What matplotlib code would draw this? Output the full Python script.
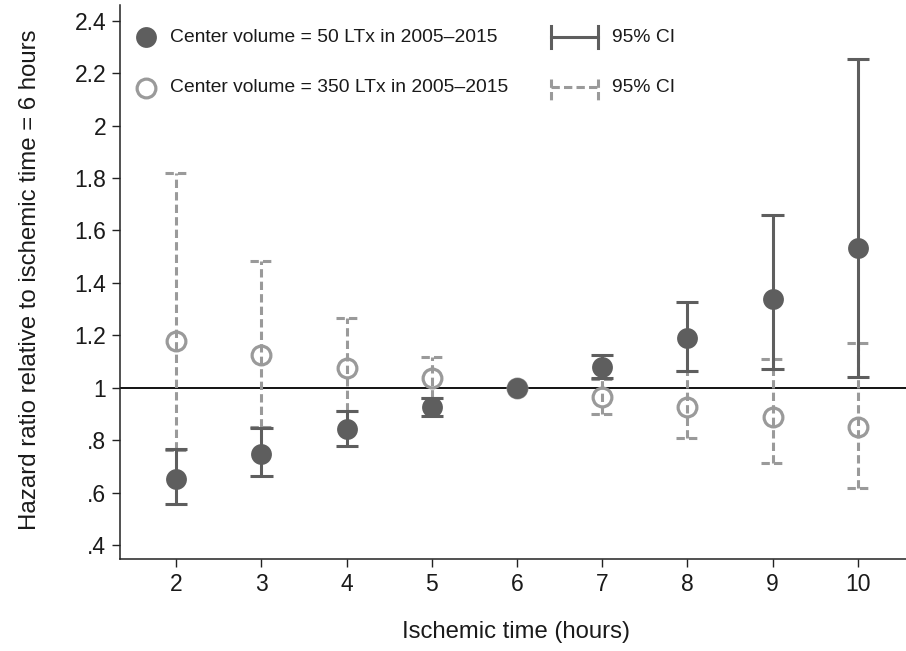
import numpy as np
import matplotlib
matplotlib.use("Agg")
import matplotlib.pyplot as plt
from matplotlib.lines import Line2D

plt.rcParams['font.family'] = ['Liberation Sans', 'DejaVu Sans']
plt.rcParams['lines.scale_dashes'] = False

# ---- data ----
hours = [2, 3, 4, 5, 6, 7, 8, 9, 10]
hr_50 = [0.652, 0.749, 0.842, 0.927, 1.0, 1.078, 1.190, 1.337, 1.533]
lo_50 = [0.555, 0.663, 0.778, 0.893, np.nan, 1.038, 1.065, 1.073, 1.042]
hi_50 = [0.766, 0.848, 0.912, 0.960, np.nan, 1.126, 1.329, 1.658, 2.253]
hr_350 = [1.177, 1.126, 1.077, 1.037, 1.0, 0.963, 0.927, 0.890, 0.851]
lo_350 = [0.762, 0.850, 0.912, 0.962, np.nan, 0.900, 0.810, 0.713, 0.619]
hi_350 = [1.820, 1.482, 1.266, 1.118, np.nan, 1.035, 1.065, 1.110, 1.169]
yticks = [0.4, 0.6, 0.8, 1.0, 1.2, 1.4, 1.6, 1.8, 2.0, 2.2, 2.4]
ytick_labels = ['.4', '.6', '.8', '1', '1.2', '1.4', '1.6', '1.8', '2', '2.2', '2.4']
label_50 = 'Center volume = 50 LTx in 2005\u20132015'
label_350 = 'Center volume = 350 LTx in 2005\u20132015'
ci_label = '95% CI'

DARK = '#5e5e5e'
LIGHT = '#9a9a9a'
DASH = (0, (6.0, 3.0))
LW = 2.2
CAPW = 0.13

W, H = 906, 651
fig = plt.figure(figsize=(W / 100, H / 100), dpi=100)
ax = fig.add_axes([120 / W, 1 - 559 / H, 1 - 120 / W, (559 - 5) / H])

x = np.array(hours, dtype=float)


def draw_ci(lo, hi, color, ls, z):
    lo = np.array(lo); hi = np.array(hi)
    m = ~np.isnan(lo)
    ax.vlines(x[m], lo[m], hi[m], colors=color, linestyles=[ls], linewidth=LW, zorder=z)
    ax.hlines(lo[m], x[m] - CAPW, x[m] + CAPW, colors=color, linestyles=[ls], linewidth=LW, zorder=z)
    ax.hlines(hi[m], x[m] - CAPW, x[m] + CAPW, colors=color, linestyles=[ls], linewidth=LW, zorder=z)


ax.axhline(1.0, color='black', lw=1.3, zorder=1.5)

draw_ci(lo_350, hi_350, LIGHT, DASH, 2)
ax.plot(x, hr_350, linestyle='none', marker='o', markersize=13.5, markerfacecolor='none',
        markeredgecolor=LIGHT, markeredgewidth=2.3, zorder=3)
draw_ci(lo_50, hi_50, DARK, 'solid', 4)
ax.plot(x, hr_50, linestyle='none', marker='o', markersize=15, markerfacecolor=DARK,
        markeredgecolor=DARK, markeredgewidth=0, zorder=5)

ax.set_xlim(1.339, 10.567)
ax.set_ylim(0.347, 2.46)
ax.set_xticks(hours)
ax.set_xticklabels([str(h) for h in hours])
ax.set_yticks(yticks)
ax.set_yticklabels(ytick_labels)

for s in ['top', 'right']:
    ax.spines[s].set_visible(False)
for s in ['left', 'bottom']:
    ax.spines[s].set_linewidth(1.1)
    ax.spines[s].set_color('#222222')
ax.tick_params(axis='both', direction='out', length=6, width=1.0, color='#222222',
               labelsize=16.5, labelcolor='#1a1a1a')
ax.tick_params(axis='x', pad=4)
ax.tick_params(axis='y', pad=4)

ax.set_xlabel('Ischemic time (hours)', fontsize=17.2, color='#1a1a1a')
ax.set_ylabel('Hazard ratio relative to ischemic time = 6 hours', fontsize=17.3, color='#1a1a1a')
ax.xaxis.set_label_coords((516 - 120) / 786, (559 - 621) / 554)
ax.yaxis.set_label_coords((41 - 120) / 786, (559 - 280) / 554)


# ---- legend (manual, figure pixel coordinates) ----
def fx(px):
    return px / W


def fy(py):
    return 1 - py / H


T = fig.transFigure
fig.add_artist(Line2D([fx(146)], [fy(37)], transform=T, marker='o', markersize=15,
                      markerfacecolor=DARK, markeredgewidth=0, linestyle='none'))
fig.add_artist(Line2D([fx(146)], [fy(88)], transform=T, marker='o', markersize=13.5,
                      markerfacecolor='none', markeredgecolor=LIGHT, markeredgewidth=2.3,
                      linestyle='none'))
fig.text(fx(170), fy(37), label_50, fontsize=13.9, va='center', ha='left', color='#1a1a1a')
fig.text(fx(170), fy(88), label_350, fontsize=13.9, va='center', ha='left', color='#1a1a1a')

# CI legend symbols
fig.add_artist(Line2D([fx(551), fx(598)], [fy(37), fy(37)], transform=T, color=DARK, lw=LW))
fig.add_artist(Line2D([fx(551), fx(551)], [fy(26), fy(48)], transform=T, color=DARK, lw=LW))
fig.add_artist(Line2D([fx(598), fx(598)], [fy(26), fy(48)], transform=T, color=DARK, lw=LW))
fig.add_artist(Line2D([fx(551), fx(598)], [fy(87), fy(87)], transform=T, color=LIGHT, lw=LW,
                      linestyle=DASH))
fig.add_artist(Line2D([fx(551), fx(551)], [fy(79), fy(100)], transform=T, color=LIGHT, lw=LW,
                      linestyle=DASH))
fig.add_artist(Line2D([fx(598), fx(598)], [fy(79), fy(100)], transform=T, color=LIGHT, lw=LW,
                      linestyle=DASH))
fig.text(fx(612), fy(37), ci_label, fontsize=13.9, va='center', ha='left', color='#1a1a1a')
fig.text(fx(612), fy(88), ci_label, fontsize=13.9, va='center', ha='left', color='#1a1a1a')

fig.savefig('out.png', dpi=100)
